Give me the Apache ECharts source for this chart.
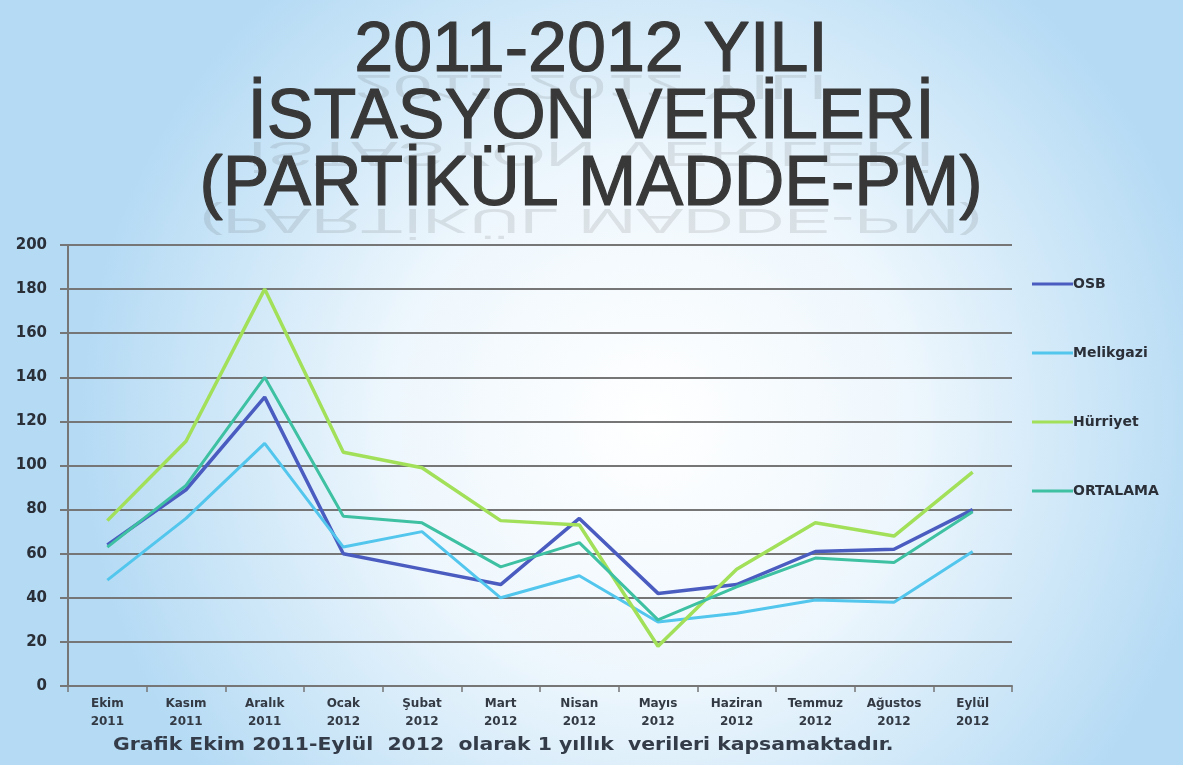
<!DOCTYPE html>
<html>
<head>
<meta charset="utf-8">
<script src="https://cdn.jsdelivr.net/npm/echarts@6/dist/echarts.min.js"></script>
<style>
  html, body { margin: 0; padding: 0; }
  #main { width: 1183px; height: 765px; }
</style>
</head>
<body>
<div id="main"></div>
<script>
var chartDom = document.getElementById('main');
var myChart = echarts.init(chartDom);

var months = ['Ekim\n2011', 'Kasım\n2011', 'Aralık\n2011', 'Ocak\n2012', 'Şubat\n2012', 'Mart\n2012',
    'Nisan\n2012', 'Mayıs\n2012', 'Haziran\n2012', 'Temmuz\n2012', 'Ağustos\n2012', 'Eylül\n2012'];
var osb = [64, 89, 131, 60, 53, 46, 76, 42, 46, 61, 62, 80];
var melikgazi = [48, 76, 110, 63, 70, 40, 50, 29, 33, 39, 38, 61];
var hurriyet = [75, 111, 180, 106, 99, 75, 73, 18, 53, 74, 68, 97];
var ortalama = [63, 91, 140, 77, 74, 54, 65, 30, 45, 58, 56, 79];
var titleLines = ['2011-2012 YILI', 'İSTASYON VERİLERİ', '(PARTİKÜL MADDE-PM)'];
var titleBase = [87, 154, 221];

var titleFont = '70px "Liberation Sans", Arial, sans-serif';
var graphics = [];
titleLines.forEach(function (t, i) {
    // faint mirrored copy under each line
    graphics.push({
        type: 'text',
        x: 591, y: titleBase[i],
        originX: 0, originY: -13,
        scaleY: -0.5,
        z: 1,
        silent: true,
        style: {
            text: t,
            font: titleFont,
            textAlign: 'center',
            verticalAlign: 'bottom',
            fill: 'rgba(70,70,70,0.13)'
        }
    });
    graphics.push({
        type: 'text',
        x: 591, y: titleBase[i],
        z: 2,
        style: {
            text: t,
            font: titleFont,
            textAlign: 'center',
            verticalAlign: 'bottom',
            fill: '#383838',
            stroke: '#383838',
            lineWidth: 1.2
        }
    });
});
graphics.push({
    type: 'text',
    x: 113, y: 737,
    scaleX: 1.2,
    style: {
        text: 'Grafik Ekim 2011-Eylül  2012  olarak 1 yıllık  verileri kapsamaktadır.',
        font: 'bold 17px "DejaVu Sans", sans-serif',
        fill: '#333c48'
    }
});

var option;

option = {
    backgroundColor: new echarts.graphic.RadialGradient(0.55, 0.55, 0.75, [
        {offset: 0, color: '#ffffff'},
        {offset: 0.45, color: '#eef7fd'},
        {offset: 1, color: '#b4daf4'}
    ]),
    color: ['#4a5cc0', '#52c6ec', '#a2e05a', '#3ec0a2'],
    graphic: graphics,
    legend: {
        orient: 'vertical',
        left: 1027,
        top: 272,
        itemWidth: 41,
        itemHeight: 14,
        itemGap: 55,
        icon: 'path://M0,6 L41,6 L41,9 L0,9 Z',
        textStyle: {
            color: '#2a2f38',
            fontSize: 14,
            fontWeight: 'bold',
            fontFamily: 'DejaVu Sans, sans-serif',
            padding: [0, 0, 0, -5]
        },
        data: ['OSB', 'Melikgazi', 'Hürriyet', 'ORTALAMA']
    },
    grid: {
        left: 68,
        right: 171,
        top: 245,
        bottom: 79
    },
    xAxis: {
        type: 'category',
        data: months,
        boundaryGap: true,
        axisLine: {lineStyle: {color: '#767676', width: 2}},
        axisTick: {show: true, length: 6, lineStyle: {color: '#767676', width: 1.5}},
        axisLabel: {
            color: '#333a44',
            fontSize: 12,
            fontWeight: 'bold',
            lineHeight: 18,
            margin: 9,
            interval: 0,
            fontFamily: 'DejaVu Sans, sans-serif'
        }
    },
    yAxis: {
        type: 'value',
        min: 0,
        max: 200,
        interval: 20,
        axisLine: {show: true, lineStyle: {color: '#767676', width: 2}},
        axisTick: {show: true, length: 8, lineStyle: {color: '#767676', width: 2}},
        axisLabel: {
            color: '#2a2f38',
            fontSize: 15,
            fontWeight: 'bold',
            margin: 21,
            fontFamily: 'DejaVu Sans, sans-serif'
        },
        splitLine: {lineStyle: {color: '#767676', width: 2}}
    },
    series: [
        {name: 'OSB', type: 'line', data: osb, symbol: 'none', lineStyle: {width: 3.5}},
        {name: 'Melikgazi', type: 'line', data: melikgazi, symbol: 'none', lineStyle: {width: 3}},
        {name: 'Hürriyet', type: 'line', data: hurriyet, symbol: 'none', lineStyle: {width: 3.5}},
        {name: 'ORTALAMA', type: 'line', data: ortalama, symbol: 'none', lineStyle: {width: 3}}
    ]
};

myChart.setOption(option);
</script>
</body>
</html>
